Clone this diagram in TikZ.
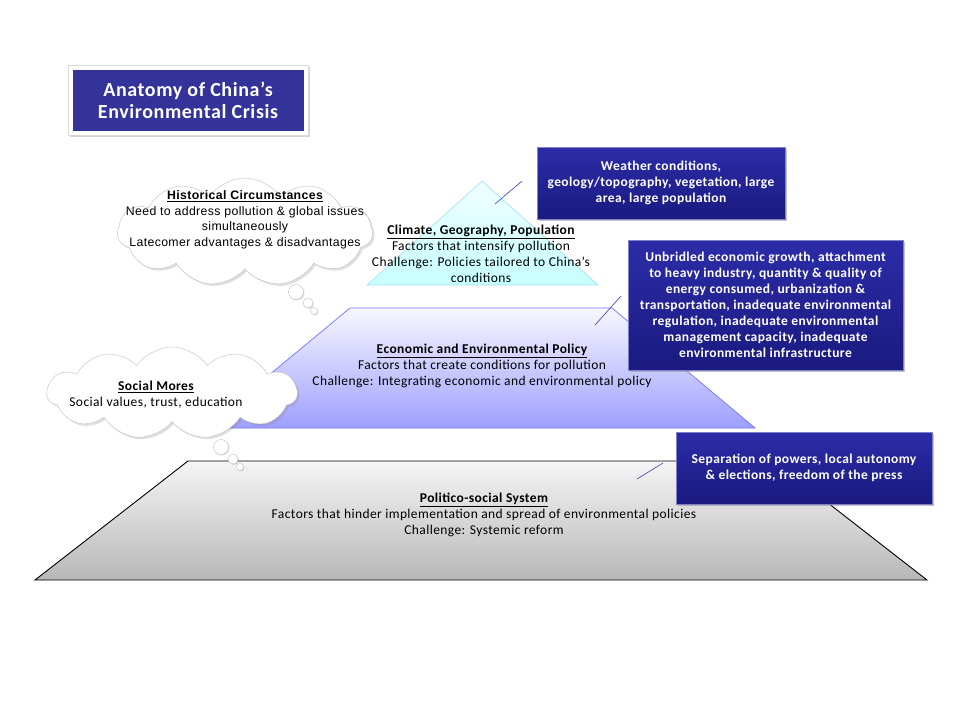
\documentclass[tikz,border=0pt]{standalone}
\usepackage{fontspec}
\setmainfont{Carlito}[LetterSpace=3]
\newfontfamily\arialf{Liberation Sans}[LetterSpace=3]
\usetikzlibrary{shapes.symbols,shadows}
\definecolor{titleblue}{HTML}{333399}
\definecolor{boxtop}{HTML}{2C2CA8}
\definecolor{boxbot}{HTML}{1A1A80}
\definecolor{pointer}{HTML}{5050C0}
\begin{document}
\begin{tikzpicture}[x=1pt,y=-1pt,
  callout/.style={draw=boxtop!60!white, line width=0.6pt, top color=boxtop, bottom color=boxbot,
    text=white, font=\fontsize{13.5}{16}\selectfont\bfseries, align=center, inner sep=0pt,
    drop shadow={opacity=0.45, shadow xshift=2pt, shadow yshift=-2pt}},
  ptr/.style={draw=pointer, line width=0.7pt},
  body/.style={font=\fontsize{13.5}{16}\selectfont, align=center, text=black},
  thought/.style={cloud, cloud puffs=11, cloud puff arc=110, draw=black!25, fill=white,
    drop shadow={opacity=0.25, shadow xshift=2pt, shadow yshift=-2pt}},
  bubble/.style={circle, draw=black!25, fill=white, inner sep=0pt,
    drop shadow={opacity=0.25, shadow xshift=1pt, shadow yshift=-1pt}}
]
\useasboundingbox (0,0) rectangle (960,720);
\fill[white] (0,0) rectangle (960,720);

% title
\node[draw=black!15, fill=white, minimum width=240pt, minimum height=70pt, inner sep=0pt,
  drop shadow={opacity=0.35, shadow xshift=2pt, shadow yshift=-2pt}] (titleframe) at (188,100) {};
\node[fill=titleblue, minimum width=231pt, minimum height=61pt, inner sep=0pt, text=white,
  font=\fontsize{20}{22}\selectfont\bfseries, align=center] (title) at (188,100)
  {Anatomy of China’s\\Environmental Crisis};

% bottom trapezoid
\path[draw=black, line width=0.9pt, top color=black!4, bottom color=black!28]
  (188,461) coordinate (bl1) -- (774,461) coordinate (br1) -- (927,580) coordinate (br2)
  -- (35,580) coordinate (bl2) -- cycle;
% middle trapezoid
\path[draw=blue!55!white, line width=0.7pt, top color=blue!3, bottom color=blue!38!white]
  (350,308) -- (612,308) -- (755,428) -- (205,428) -- cycle;
% top triangle
\path[draw=cyan!35, line width=0.7pt, top color=cyan!6, bottom color=cyan!22]
  (482,181) -- (598,285) -- (367,285) -- cycle;

% layer texts
\node[body] (climate) at (481,254) {\textbf{\underline{Climate, Geography,\ Population}}\\
  Factors that intensify\ pollution\\Challenge: Policies tailored to China’s\\conditions};
\node[body] (econ) at (482,366) {\textbf{\underline{Economic and Environmental Policy}}\\
  Factors that create conditions for pollution\\Challenge: Integrating economic and environmental policy};
\node[body] (polit) at (484,515) {\textbf{\underline{Politico-social System}}\\
  Factors that hinder implementation\ and spread of environmental\ policies\\Challenge: Systemic reform};

% historical cloud
\node[thought, minimum width=255pt, minimum height=108pt] (histcloud) at (245,232) {};
\node[bubble, minimum size=15pt] (hb1) at (296,292) {};
\node[bubble, minimum size=10pt] (hb2) at (308,303) {};
\node[bubble, minimum size=7pt] (hb3) at (314,311) {};
\node[font=\arialf\fontsize{12.3}{15.5}\selectfont, align=center] (hist) at (245,220)
  {\textbf{\underline{Historical Circumstances}}\\Need to address pollution \& global issues\\simultaneously\\Latecomer advantages \& disadvantages};

% social cloud
\node[thought, minimum width=250pt, minimum height=92pt] (socialcloud) at (172,393) {};
\node[bubble, minimum size=15pt] (sb1) at (221,447) {};
\node[bubble, minimum size=10pt] (sb2) at (233,459) {};
\node[bubble, minimum size=7pt] (sb3) at (240,467) {};
\node[body] (social) at (156,395) {\textbf{\underline{Social Mores}}\\Social values, trust,\ education};

% callouts
\node[callout, minimum width=248pt, minimum height=72pt] (weather) at (661,183)
  {Weather conditions,\\geology/topography, vegetation,\ large\\area, large population};
\node[callout, minimum width=275pt, minimum height=130pt] (unbr) at (765.5,305)
  {Unbridled economic\ growth,\ attachment\\to heavy\ industry,\ quantity\ \& quality\ of\\
   energy consumed,\ urbanization \&\\transportation, inadequate\ environmental\\
   regulation, inadequate\ environmental\\management\ capacity, inadequate\\environmental\ infrastructure};
\node[callout, minimum width=256pt, minimum height=72pt] (separ) at (804,468)
  {Separation of powers, local autonomy\\\& elections,\ freedom of the\ press};

% pointers
\coordinate (w1) at (495,204); \coordinate (w2) at (522,181);
\coordinate (u1) at (595,325); \coordinate (u2) at (621,296);
\coordinate (s1) at (637,479); \coordinate (s2) at (663,463);
\draw[ptr] (w1) -- (w2);
\draw[ptr] (u1) -- (u2);
\draw[ptr] (s1) -- (s2);
\end{tikzpicture}
\end{document}
